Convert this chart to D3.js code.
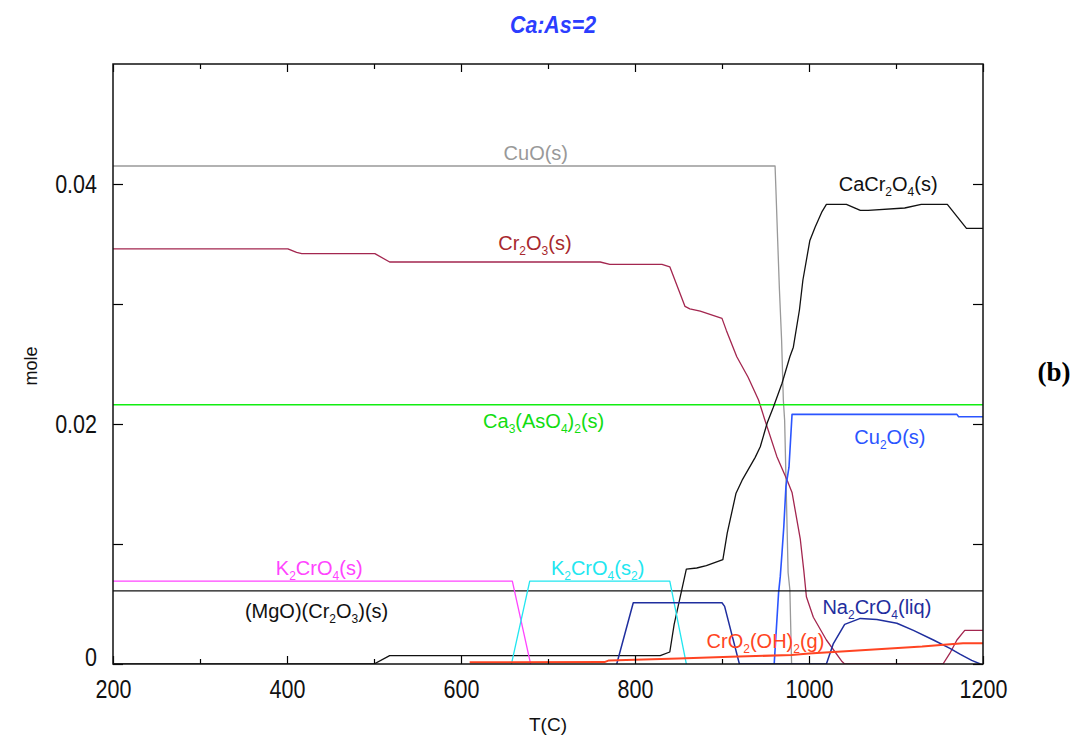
<!DOCTYPE html>
<html>
<head>
<meta charset="utf-8">
<script src="https://cdn.jsdelivr.net/npm/d3@7"></script>
<style>
  body { margin: 0; background: #fff; }
  svg { display: block; font-family: "Liberation Sans", Arial, sans-serif; }
</style>
</head>
<body>
<svg id="chart" width="1076" height="738"></svg>
<script>
// Equilibrium amounts (mole) versus temperature T (°C), pairs of [T, mole]
const cuO = [[200,0.0415],[961,0.0415],[962,0.0395],[964,0.0353],[966,0.0312],[968.5,0.0270],[970.5,0.0220],[972,0.0203],[976,0.0076],[978,0.0062],[980,0]];
const cr2O3 = [[200,0.0346],[401,0.0346],[411,0.0343],[417,0.0342],[501,0.0342],[518,0.0335],[760,0.0335],[771,0.0333],[831,0.0333],[840,0.0331],[857.5,0.0298],[863,0.0296],[875,0.0294],[900,0.0288],[905,0.0278],[917,0.0256],[930,0.0239],[942,0.0220],[949,0.0204],[963,0.0173],[975,0.0153],[980.5,0.0143],[990,0.0104],[994,0.0078],[997,0.0056],[1005,0.0039],[1020,0.0020],[1038,0.0002],[1041,0],[1154,0],[1162,0.0009],[1170,0.0020],[1179,0.0028],[1200,0.0028]];
const ca3AsO42 = [[200,0.0216],[1200,0.0216]];
const cu2O = [[960,0],[961,0.0012],[965,0.0059],[967,0.0073],[969,0.0093],[971,0.0114],[973.5,0.0148],[977,0.0164],[980.5,0.0208],[1170,0.0208],[1172,0.0206],[1200,0.0206]];
const caCr2O4 = [[200,0],[500,0],[518,0.0007],[829,0.0007],[840,0.0010],[845,0.0033],[859,0.0079],[871,0.0080],[882,0.0082],[901,0.0087],[906,0.0109],[916,0.0142],[923,0.0153],[938,0.0172],[944,0.0181],[952,0.0201],[959,0.0214],[969,0.0234],[978,0.0256],[982,0.0264],[989,0.0295],[993,0.0320],[1001,0.0353],[1007,0.0364],[1015,0.0377],[1020,0.0383],[1043,0.0383],[1059,0.0378],[1068,0.0378],[1110,0.0380],[1129,0.0383],[1159,0.0383],[1181,0.0363],[1200,0.0363]];
const mgoCr2O3 = [[200,0.0061],[1200,0.0061]];
const k2CrO4s = [[200,0.0069],[659,0.0069],[680,0]];
const k2CrO4s2 = [[658,0],[679,0.0069],[840,0.0069],[859,0]];
const na2CrO4liq = [[779,0],[798,0.0051],[900,0.0051],[903,0.0048],[920,0],[1020,0],[1028,0.0017],[1041,0.0033],[1059,0.0038],[1078,0.0037],[1101,0.0034],[1120,0.0028],[1143,0.0020],[1162,0.0013],[1174,0.0008],[1187,0.0003],[1197,0]];
const crO2OH2g = [[610,0.00014],[765,0.00016],[770,0.00030],[850,0.00045],[910,0.00060],[980,0.00075],[1000,0.00088],[1093,0.00130],[1130,0.00145],[1155,0.00160],[1177,0.00173],[1200,0.00173]];

// Axis ticks
const xMajorTicks = [200, 400, 600, 800, 1000, 1200];
const xMinorTicks = [300, 500, 700, 900, 1100];
const yTicks = [0, 0.01, 0.02, 0.03, 0.04];
const yTickLabels = { 0: "0", 0.02: "0.02", 0.04: "0.04" };

// Series drawing setup
const series = [
  { data: cuO,        color: "#999999", width: 1.3 },
  { data: cr2O3,      color: "#a3264f", width: 1.3 },
  { data: ca3AsO42,   color: "#11ee11", width: 1.4 },
  { data: cu2O,       color: "#2b55ff", width: 1.6 },
  { data: caCr2O4,    color: "#111111", width: 1.3 },
  { data: mgoCr2O3,   color: "#111111", width: 1.3 },
  { data: k2CrO4s,    color: "#ff44ff", width: 1.3 },
  { data: k2CrO4s2,   color: "#22e6f0", width: 1.3 },
  { data: na2CrO4liq, color: "#1f2e9e", width: 1.5 },
  { data: crO2OH2g,   color: "#ff4422", width: 2.0 }
];

// Species names placed next to their curves ("_x" marks a subscript)
const speciesLabels = [
  { text: "CuO(s)",            T: 686,  m: 0.0420,  color: "#999999" },
  { text: "CaCr_2O_4(s)",      T: 1091, m: 0.0394,  color: "#111111" },
  { text: "Cr_2O_3(s)",        T: 685,  m: 0.0345,  color: "#a8282e" },
  { text: "Ca_3(AsO_4)_2(s)",  T: 695,  m: 0.0197,  color: "#11dd11" },
  { text: "Cu_2O(s)",          T: 1093, m: 0.0183,  color: "#2b55ff" },
  { text: "K_2CrO_4(s)",       T: 437,  m: 0.0074,  color: "#ff44ff" },
  { text: "K_2CrO_4(s_2)",     T: 757,  m: 0.0074,  color: "#22e6f0" },
  { text: "(MgO)(Cr_2O_3)(s)", T: 434,  m: 0.0038,  color: "#111111" },
  { text: "Na_2CrO_4(liq)",    T: 1078, m: 0.0042,  color: "#1f2e9e" },
  { text: "CrO_2(OH)_2(g)",    T: 950,  m: 0.00135, color: "#ff4422" }
];

const svg = d3.select("#chart");
const x = d3.scaleLinear().domain([200, 1200]).range([113, 983]);
const y = d3.scaleLinear().domain([0, 0.05]).range([664, 64]);

// Title
const title = svg.append("text")
  .attr("x", 553).attr("y", 33)
  .attr("text-anchor", "middle")
  .attr("font-size", 24).attr("font-weight", "bold").attr("font-style", "italic")
  .attr("fill", "#2b3dff")
  .text("Ca:As=2");
title.attr("textLength", title.node().getComputedTextLength() * 0.89)
  .attr("lengthAdjust", "spacingAndGlyphs");

// Curves
svg.append("defs").append("clipPath").attr("id", "plotClip")
  .append("rect").attr("x", 113).attr("y", 64).attr("width", 870).attr("height", 600);

const line = d3.line().x(d => x(d[0])).y(d => y(d[1]));
const curves = svg.append("g").attr("clip-path", "url(#plotClip)");
curves.selectAll("path").data(series).join("path")
  .attr("d", s => line(s.data))
  .attr("fill", "none")
  .attr("stroke", s => s.color)
  .attr("stroke-width", s => s.width)
  .attr("stroke-linejoin", "round");

// Text with subscripts
function richText(g, str, px, py, color, size) {
  const t = g.append("text")
    .attr("x", px).attr("y", py)
    .attr("text-anchor", "middle")
    .attr("font-size", size)
    .attr("fill", color);
  const parts = str.split(/(_[^_])/).filter(p => p.length);
  let shifted = false;
  parts.forEach(p => {
    if (p[0] === "_") {
      t.append("tspan").attr("dy", shifted ? 0 : 5).attr("font-size", size * 0.6).text(p.slice(1));
      shifted = true;
    } else {
      t.append("tspan").attr("dy", shifted ? -5 : 0).text(p);
      shifted = false;
    }
  });
  return t;
}

const labelLayer = svg.append("g");
speciesLabels.forEach(l => richText(labelLayer, l.text, x(l.T), y(l.m), l.color, 20));

// Axes: ticks point inward on all four sides
function styleAxis(g) {
  g.select(".domain").remove();
  g.selectAll(".tick line").attr("stroke", "#000").attr("stroke-width", 1.2);
  g.selectAll("text").attr("fill", "#111").attr("font-size", 25)
    .attr("font-family", "'Liberation Sans', Arial, sans-serif");
}
function narrowLabels(g) {
  g.selectAll("text").each(function () {
    const w = this.getComputedTextLength();
    d3.select(this).attr("textLength", w * 0.86).attr("lengthAdjust", "spacingAndGlyphs");
  });
}

const xBottom = svg.append("g").attr("transform", "translate(0,664)")
  .call(d3.axisBottom(x).tickValues(xMajorTicks).tickSize(-8).tickPadding(16).tickFormat(d3.format("d")))
  .call(styleAxis).call(narrowLabels);
svg.append("g").attr("transform", "translate(0,664)")
  .call(d3.axisBottom(x).tickValues(xMinorTicks).tickSize(-5).tickFormat(""))
  .call(styleAxis);
svg.append("g").attr("transform", "translate(0,64)")
  .call(d3.axisTop(x).tickValues(xMajorTicks).tickSize(-8).tickFormat(""))
  .call(styleAxis);
svg.append("g").attr("transform", "translate(0,64)")
  .call(d3.axisTop(x).tickValues(xMinorTicks).tickSize(-5).tickFormat(""))
  .call(styleAxis);

const yLeft = svg.append("g").attr("transform", "translate(113,0)")
  .call(d3.axisLeft(y).tickValues(yTicks).tickSize(-10).tickPadding(16)
    .tickFormat(d => yTickLabels[d] !== undefined ? yTickLabels[d] : ""))
  .call(styleAxis).call(narrowLabels);
// the zero label sits just above the bottom edge
yLeft.selectAll(".tick text").filter(d => d === 0).attr("dy", "0.05em");
svg.append("g").attr("transform", "translate(983,0)")
  .call(d3.axisRight(y).tickValues(yTicks).tickSize(-10).tickFormat(""))
  .call(styleAxis);

// Plot frame
svg.append("rect")
  .attr("x", 113).attr("y", 64).attr("width", 870).attr("height", 600)
  .attr("fill", "none").attr("stroke", "#111").attr("stroke-width", 1.5);

// Axis titles
svg.append("text")
  .attr("x", 548).attr("y", 731)
  .attr("text-anchor", "middle").attr("font-size", 19).attr("fill", "#111")
  .text("T(C)");
svg.append("text")
  .attr("transform", "translate(37,366) rotate(-90)")
  .attr("text-anchor", "middle").attr("font-size", 18).attr("fill", "#111")
  .text("mole");

// Panel tag
svg.append("text")
  .attr("x", 1054).attr("y", 381)
  .attr("text-anchor", "middle")
  .attr("font-family", "'Liberation Serif', 'Times New Roman', serif")
  .attr("font-weight", "bold").attr("font-size", 27).attr("fill", "#000")
  .text("(b)");
</script>
</body>
</html>
